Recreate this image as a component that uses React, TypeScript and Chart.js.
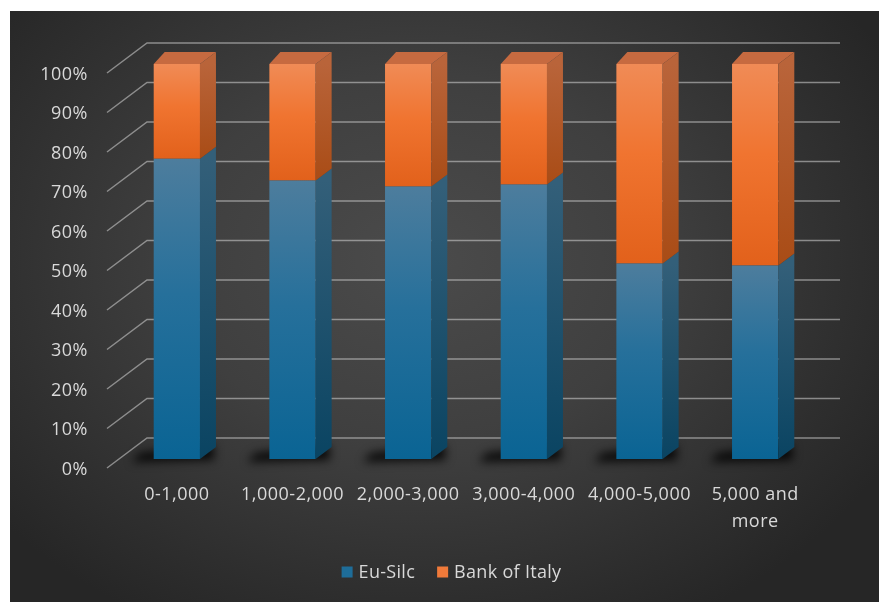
import React, { useEffect, useRef } from "react";
import { Chart, registerables } from "chart.js";

Chart.register(...registerables);

const categories: string[][] = [
  ["0-1,000"],
  ["1,000-2,000"],
  ["2,000-3,000"],
  ["3,000-4,000"],
  ["4,000-5,000"],
  ["5,000 and", "more"],
];
const euSilc = [76, 70.5, 69, 69.5, 49.5, 49];
const bankOfItaly = [24, 29.5, 31, 30.5, 50.5, 51];
const yTicks = [0, 10, 20, 30, 40, 50, 60, 70, 80, 90, 100];
const seriesNames = ["Eu-Silc", "Bank of Italy"];

const FONT = '"Open Sans", "DejaVu Sans", sans-serif';
const TEXT = "#d9d9d9";
const GRID = "rgba(200,200,200,0.6)";

function frontGradient(ctx: any, datasetIndex: number) {
  const chart = ctx.chart;
  const y = chart.scales && chart.scales.y;
  const solid = datasetIndex === 0 ? "#1e6d99" : "#ee7330";
  if (!chart.chartArea || !y || ctx.type !== "data") return solid;
  const i = ctx.dataIndex;
  const lo = datasetIndex === 0 ? 0 : euSilc[i];
  const hi = datasetIndex === 0 ? euSilc[i] : euSilc[i] + bankOfItaly[i];
  const g = chart.ctx.createLinearGradient(0, y.getPixelForValue(hi), 0, y.getPixelForValue(lo));
  if (datasetIndex === 0) {
    g.addColorStop(0, "#4d7d9d");
    g.addColorStop(0.45, "#26709b");
    g.addColorStop(1, "#0a6494");
  } else {
    g.addColorStop(0, "#f08b56");
    g.addColorStop(0.45, "#f07430");
    g.addColorStop(1, "#e2611b");
  }
  return g;
}

const threeD = {
  id: "threeD",
  beforeDatasetsDraw(chart: any) {
    const { ctx, chartArea } = chart;
    const y = chart.scales.y;
    const left = chartArea.left;
    const right = chartArea.right;
    ctx.save();
    ctx.strokeStyle = GRID;
    ctx.lineWidth = 1.5;
    yTicks.forEach((v) => {
      const p = y.getPixelForValue(v);
      const fy = p + 9;
      const by = p - 21;
      ctx.beginPath();
      ctx.moveTo(left - 12, fy);
      ctx.lineTo(left + 28, by);
      ctx.lineTo(right + 27, by);
      ctx.stroke();
    });
    ctx.fillStyle = TEXT;
    ctx.font = `18px ${FONT}`;
    (ctx as any).letterSpacing = "0.5px";
    ctx.textAlign = "right";
    ctx.textBaseline = "middle";
    yTicks.forEach((v) => {
      const p = y.getPixelForValue(v);
      ctx.fillText(`${v}%`, left - 31, p + 10.5);
    });
    const meta = chart.getDatasetMeta(0);
    meta.data.forEach((el: any) => {
      const { x, base, width } = el.getProps(["x", "base", "width"], true);
      const L = x - width / 2;
      const R = x + width / 2;
      ctx.save();
      ctx.filter = "blur(5px)";
      ctx.fillStyle = "rgba(0,0,0,0.85)";
      ctx.beginPath();
      ctx.moveTo(L - 14, base - 6);
      ctx.lineTo(R + 14, base - 14);
      ctx.lineTo(R + 14, base + 1);
      ctx.lineTo(L - 22, base + 3);
      ctx.closePath();
      ctx.fill();
      ctx.restore();
    });
    ctx.restore();
  },
  afterDatasetsDraw(chart: any) {
    const { ctx, chartArea } = chart;
    const dx = 16;
    const dy = -12;
    ctx.save();
    const nDs = chart.data.datasets.length;
    for (let d = 0; d < nDs; d++) {
      const meta = chart.getDatasetMeta(d);
      meta.data.forEach((el: any) => {
        const { x, y, base, width } = el.getProps(["x", "y", "base", "width"], true);
        const R = x + width / 2;
        const L = x - width / 2;
        const g = ctx.createLinearGradient(0, y, 0, base);
        if (d === 0) {
          g.addColorStop(0, "#335f79");
          g.addColorStop(1, "#0a4462");
        } else {
          g.addColorStop(0, "#b9643a");
          g.addColorStop(1, "#a94c16");
        }
        ctx.fillStyle = g;
        ctx.beginPath();
        ctx.moveTo(R, y);
        ctx.lineTo(R + dx, y + dy);
        ctx.lineTo(R + dx, base + dy);
        ctx.lineTo(R, base);
        ctx.closePath();
        ctx.fill();
        if (d === nDs - 1) {
          ctx.fillStyle = "#c66a40";
          ctx.beginPath();
          ctx.moveTo(L, y);
          ctx.lineTo(R, y);
          ctx.lineTo(R + dx, y + dy);
          ctx.lineTo(L + 11, y + dy);
          ctx.closePath();
          ctx.fill();
        }
      });
    }
    const xs = chart.scales.x;
    ctx.fillStyle = TEXT;
    ctx.font = `18px ${FONT}`;
    (ctx as any).letterSpacing = "0.5px";
    ctx.textAlign = "center";
    ctx.textBaseline = "middle";
    categories.forEach((lines, i) => {
      const cx = xs.getPixelForValue(i);
      lines.forEach((t, k) => {
        ctx.fillText(t, cx, chartArea.bottom + 36 + k * 27);
      });
    });
    ctx.font = `18px ${FONT}`;
    (ctx as any).letterSpacing = "0.3px";
    ctx.textAlign = "left";
    const colors = ["#1e6d99", "#f07a3a"];
    const box = 11;
    const gapBox = 6;
    const gapItem = 22;
    const widths = seriesNames.map((n) => ctx.measureText(n).width);
    const total = widths.reduce((a, w) => a + box + gapBox + w, 0) + gapItem;
    let lx = chart.width / 2 + 12 - total / 2;
    const ly = chartArea.bottom + 113;
    seriesNames.forEach((n, k) => {
      ctx.fillStyle = colors[k];
      ctx.fillRect(lx, ly - box / 2, box, box);
      ctx.fillStyle = TEXT;
      ctx.fillText(n, lx + box + gapBox, ly + 0.5);
      lx += box + gapBox + widths[k] + gapItem;
    });
    ctx.restore();
  },
};

export default function App() {
  const ref = useRef<HTMLCanvasElement | null>(null);
  useEffect(() => {
    if (!ref.current) return;
    const chart = new Chart(ref.current, {
      type: "bar",
      data: {
        labels: categories.map((c) => c.join(" ")),
        datasets: [
          {
            label: seriesNames[0],
            data: euSilc,
            backgroundColor: (c: any) => frontGradient(c, 0),
            borderWidth: 0,
            barPercentage: 0.4,
            categoryPercentage: 1,
          },
          {
            label: seriesNames[1],
            data: bankOfItaly,
            backgroundColor: (c: any) => frontGradient(c, 1),
            borderWidth: 0,
            barPercentage: 0.4,
            categoryPercentage: 1,
          },
        ],
      },
      options: {
        responsive: false,
        animation: false,
        devicePixelRatio: 1,
        layout: { padding: { left: 119, right: 66, top: 64, bottom: 143 } },
        plugins: { legend: { display: false }, tooltip: { enabled: false } },
        scales: {
          x: { stacked: true, display: false },
          y: { stacked: true, display: false, min: 0, max: 100 },
        },
      },
      plugins: [threeD],
    });
    return () => chart.destroy();
  }, []);
  return (
    <div style={{ position: "fixed", left: 0, top: 0, width: 879, height: 602, background: "#ffffff", overflow: "hidden" }}>
      <div
        style={{
          position: "absolute",
          left: 10,
          top: 11,
          right: 0,
          bottom: 0,
          background:
            "radial-gradient(ellipse 62% 70% at 47% 42%, #4b4b4b 0%, #3f3f3f 45%, #2f2f2f 80%, #262626 100%)",
        }}
      />
      <canvas ref={ref} width={879} height={602} style={{ position: "absolute", left: 0, top: 0 }} />
    </div>
  );
}
